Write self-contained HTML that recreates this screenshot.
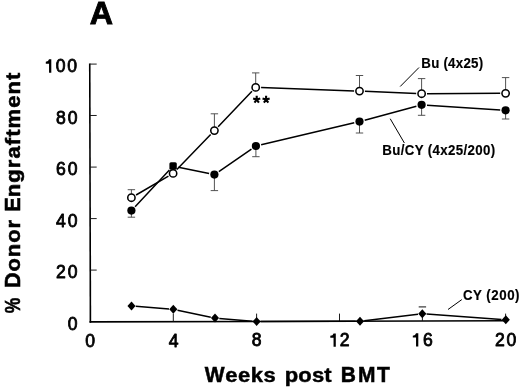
<!DOCTYPE html>
<html>
<head>
<meta charset="utf-8">
<style>
html,body{margin:0;padding:0;background:#fff;}
body{width:520px;height:388px;overflow:hidden;font-family:"Liberation Sans",sans-serif;}
svg{display:block;will-change:transform;}
text{font-family:"Liberation Sans",sans-serif;fill:#000;}
.b{font-weight:bold;}
</style>
</head>
<body>
<svg width="520" height="388" viewBox="0 0 520 388">
<rect width="520" height="388" fill="#fff"/>
<!-- panel letter -->
<text x="89.7" y="23.5" class="b" font-size="32.2" stroke="#000" stroke-width="0.9" stroke-linejoin="miter">A</text>
<!-- axes -->
<g stroke="#000" fill="none">
<line x1="89.75" y1="63.55" x2="90.4" y2="322.65" stroke-width="1.6"/>
<line x1="89.50" y1="321.90" x2="506" y2="320.80" stroke-width="1.6"/>
<g stroke-width="0.95" stroke="#111">
<line x1="89.75" y1="64.1" x2="96.7" y2="64.08"/>
<line x1="89.88" y1="115.5" x2="96.7" y2="115.48"/>
<line x1="90.01" y1="167.1" x2="96.7" y2="167.07999999999998"/>
<line x1="90.14" y1="218.6" x2="96.7" y2="218.57999999999998"/>
<line x1="90.27" y1="270.1" x2="96.7" y2="270.08000000000004"/>
<line x1="173.3" y1="321.58" x2="173.3" y2="313.6"/>
<line x1="256.6" y1="321.37" x2="256.6" y2="313.6"/>
<line x1="339.5" y1="321.15" x2="339.5" y2="313.6"/>
<line x1="422.4" y1="320.94" x2="422.4" y2="313.6"/>
<line x1="505.6" y1="320.72" x2="505.6" y2="313.6"/>
</g>
</g>
<!-- y tick labels -->
<g font-size="17.6" stroke="#000" stroke-width="0.8" stroke-linejoin="round">
<path d="M49.05 59.35H51.30V72.65H49.05V63.65H45.80V61.80Q48.60 61.65 49.05 59.35Z" fill="#000" stroke="none"/>
<text x="55.7 67.2" y="72.25">00</text>
<text x="56.05 67.65" y="123.65">80</text>
<text x="56.05 67.65" y="175.25">60</text>
<text x="56.05 67.65" y="226.75">40</text>
<text x="56.05 67.65" y="278.25">20</text>
<text x="67.65" y="329.70">0</text>
</g>
<!-- x tick labels -->
<g font-size="17.6" stroke="#000" stroke-width="0.8" stroke-linejoin="round">
<text x="85.28" y="346.70">0</text>
<text x="168.75" y="346.56">4</text>
<text x="251.68" y="346.42">8</text>
<text x="494.94 506.54" y="345.99">20</text>
<path d="M333.55 333.40H335.80V346.70H333.55V337.70H330.30V335.85Q333.10 335.70 333.55 333.40Z" fill="#000" stroke="none"/>
<text x="339.7" y="346.3">2</text>
<path d="M416.05 333.25H418.30V346.55H416.05V337.55H412.80V335.70Q415.60 335.55 416.05 333.25Z" fill="#000" stroke="none"/>
<text x="423.0" y="346.15">6</text>
</g>
<!-- x axis title -->
<g class="b" stroke="#000" stroke-width="0.5">
<text transform="translate(204.8,381.9) scale(1,1.055)" font-size="21">W</text>
<text transform="translate(225.2,381.9) scale(1,0.89)" font-size="22" textLength="50.6" lengthAdjust="spacing">eeks</text>
<text transform="translate(284.8,381.9) scale(1,0.89)" font-size="22" textLength="46.8" lengthAdjust="spacing">post</text>
<text transform="translate(0,381.9) scale(1,1.055)" x="340.85 358.05 376.9" font-size="21">BMT</text>
</g>
<!-- y axis title -->
<g class="b" stroke="#000" stroke-width="0.6" transform="translate(20.1,0) rotate(-90)">
<text x="-313.3" y="0" font-size="21.2" textLength="15.5" lengthAdjust="spacingAndGlyphs">%</text>
<text x="-288.1" y="0" font-size="21.6">D</text>
<text transform="translate(-271.45,0) scale(1,0.89)" font-size="22" textLength="51.5" lengthAdjust="spacing">onor</text>
<text x="-211.8" y="0" font-size="21.6">E</text>
<text transform="translate(-197.2,0) scale(1,0.89)" font-size="22" textLength="124.5" lengthAdjust="spacing">ngraftment</text>
</g>
<!-- series lines -->
<g stroke="#000" stroke-width="1.5" fill="none">
<path d="M136.07 194.98L168.43 176.12M176.85 169.51L210.65 134.49M218.13 126.70L251.97 91.30M261.10 87.59L354.10 90.91M364.90 91.33L416.20 93.47M427.00 93.67L500.20 93.33"/>
<path d="M135.09 206.66L169.41 170.04M178.39 167.19L209.11 173.51M218.85 171.54L251.45 149.06M261.16 144.76L354.24 122.84M364.71 120.19L416.39 106.21M426.99 105.15L500.21 109.95"/>
<path d="M135.79 306.34L169.01 308.96M177.51 310.19L210.79 317.21M219.29 318.45L252.31 321.15M260.90 321.49L355.70 321.21M364.27 320.69L418.03 314.31M426.59 314.10L501.51 319.40"/>
</g>
<!-- error bars -->
<g stroke="#4a4a4a" stroke-width="0.95" fill="none">
<path d="M131.4 197.7V189.7M127.7 189.7H135.1"/>
<path d="M214.4 130.6V113.8M210.7 113.8H218.1"/>
<path d="M255.7 87.4V72.9M252.0 72.9H259.4"/>
<path d="M359.5 91.1V75.5M355.8 75.5H363.2"/>
<path d="M421.6 93.7V78.6M417.9 78.6H425.3"/>
<path d="M505.6 93.3V77.6M501.9 77.6H509.3"/>
<path d="M131.4 210.6V217.2M127.7 217.2H135.1"/>
<path d="M214.4 174.6V190.6M210.7 190.6H218.1"/>
<path d="M255.9 146.0V156.7M252.2 156.7H259.6"/>
<path d="M359.5 121.6V133.0M355.8 133.0H363.2"/>
<path d="M421.6 104.8V115.3M417.9 115.3H425.3"/>
<path d="M505.6 110.3V119.0M501.9 119.0H509.3"/>
<path d="M418.7 306.9H426.1" stroke="#222" stroke-width="1.1"/>
</g>
<!-- markers -->
<g stroke="#000" stroke-width="1.55" fill="#fff">
<circle cx="131.4" cy="197.7" r="3.65"/>
<circle cx="173.1" cy="173.4" r="3.65"/>
<circle cx="214.4" cy="130.6" r="3.65"/>
<circle cx="255.7" cy="87.4" r="3.65"/>
<circle cx="359.5" cy="91.1" r="3.65"/>
<circle cx="421.6" cy="93.7" r="3.65"/>
<circle cx="505.6" cy="93.3" r="3.65"/>
</g>
<g fill="#000" stroke="none">
<circle cx="131.4" cy="210.6" r="4.1"/>
<rect x="169.4" y="162.2" width="7.4" height="7.6" rx="1.6"/>
<circle cx="214.4" cy="174.6" r="4.1"/>
<circle cx="255.9" cy="146.0" r="4.1"/>
<circle cx="359.5" cy="121.6" r="4.1"/>
<circle cx="421.6" cy="104.8" r="4.1"/>
<circle cx="505.6" cy="110.3" r="4.1"/>
<path d="M131.5 301.5l4.05 4.5l-4.05 4.5l-4.05-4.5z"/>
<path d="M173.3 304.8l4.05 4.5l-4.05 4.5l-4.05-4.5z"/>
<path d="M215.0 313.6l4.05 4.5l-4.05 4.5l-4.05-4.5z"/>
<path d="M256.6 317.0l4.05 4.5l-4.05 4.5l-4.05-4.5z"/>
<path d="M360.0 316.7l4.05 4.5l-4.05 4.5l-4.05-4.5z"/>
<path d="M422.3 309.3l4.05 4.5l-4.05 4.5l-4.05-4.5z"/>
<path d="M505.8 315.2l4.05 4.5l-4.05 4.5l-4.05-4.5z"/>
</g>
<!-- significance asterisks -->
<g fill="none" stroke="#000" stroke-width="2.1">
<path d="M256.70 99.60L256.70 95.85M256.70 99.60L260.27 98.44M256.70 99.60L258.90 102.63M256.70 99.60L254.50 102.63M256.70 99.60L253.13 98.44"/>
<path d="M266.10 99.60L266.10 95.85M266.10 99.60L269.67 98.44M266.10 99.60L268.30 102.63M266.10 99.60L263.90 102.63M266.10 99.60L262.53 98.44"/>
</g>
<!-- leaders and labels -->
<g stroke="#000" stroke-width="1" fill="none">
<line x1="400.2" y1="86.5" x2="419" y2="67.5"/>
<line x1="390.2" y1="118.7" x2="404.4" y2="143"/>
<line x1="448" y1="309.5" x2="461.8" y2="299.6"/>
</g>
<g class="b" font-size="13.3" stroke="#000" stroke-width="0.15">
<text transform="translate(421.3,67.8) scale(1,1.06)" textLength="61.8" lengthAdjust="spacing">Bu (4x25)</text>
<text transform="translate(382.3,155.3) scale(1,1.06)" textLength="112.8" lengthAdjust="spacing">Bu/CY (4x25/200)</text>
<text transform="translate(462.9,300.3) scale(1,1.06)" textLength="56.6" lengthAdjust="spacing">CY (200)</text>
</g>
</svg>
</body>
</html>
